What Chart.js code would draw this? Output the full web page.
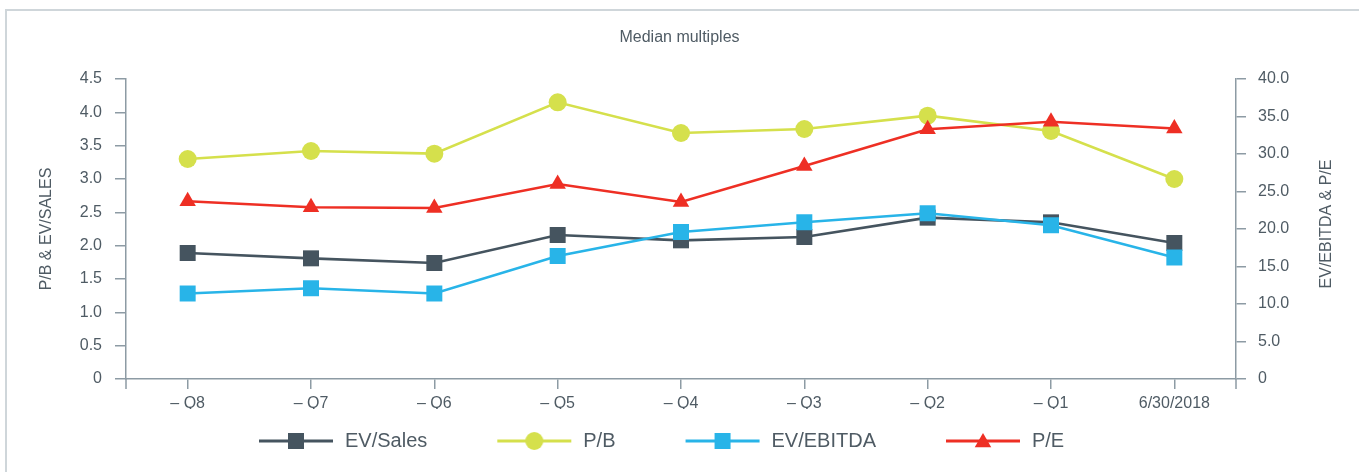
<!DOCTYPE html>
<html>
<head>
<meta charset="utf-8">
<script src="https://cdn.jsdelivr.net/npm/chart.js@4/dist/chart.umd.min.js"></script>
<style>
  html, body { margin: 0; padding: 0; background: #ffffff; overflow: hidden; }
  #frame { position: absolute; left: 5px; top: 9px; width: 1400px; height: 500px;
           border-left: 2px solid #cfd6da; border-top: 2px solid #cfd6da; }
  #c { position: absolute; left: 0; top: 0; }
</style>
</head>
<body>
<div id="frame"></div>
<canvas id="c" width="1359" height="472"></canvas>
<script>
// ---- data ----
const categories = ['\u2013 Q8', '\u2013 Q7', '\u2013 Q6', '\u2013 Q5', '\u2013 Q4', '\u2013 Q3', '\u2013 Q2', '\u2013 Q1', '6/30/2018'];
const evSales  = [1.89, 1.81, 1.74, 2.16, 2.08, 2.13, 2.42, 2.35, 2.04];
const pb       = [3.30, 3.42, 3.38, 4.15, 3.69, 3.75, 3.95, 3.72, 3.00];
const evEbitda = [11.4, 12.1, 11.4, 16.4, 19.6, 20.9, 22.1, 20.5, 16.2];
const pe       = [23.7, 22.9, 22.8, 26.0, 23.6, 28.4, 33.3, 34.3, 33.4];
const leftTickLabels  = ['0', '0.5', '1.0', '1.5', '2.0', '2.5', '3.0', '3.5', '4.0', '4.5'];
const rightTickLabels = ['0', '5.0', '10.0', '15.0', '20.0', '25.0', '30.0', '35.0', '40.0'];
const seriesNames = ['EV/Sales', 'P/B', 'EV/EBITDA', 'P/E'];
const titleText = 'Median multiples';
const leftAxisTitle = 'P/B & EV/SALES';
const rightAxisTitle = 'EV/EBITDA & P/E';

// ---- style ----
const FONT = "'Liberation Sans', Arial, Helvetica, sans-serif";
const TEXT = '#4f5b64';
const AXIS = '#8d9ba4';
const C_SALES = '#45545f', C_PB = '#d5e04c', C_EBITDA = '#28b4e8', C_PE = '#ee2f24';

// legend icons: line with marker (leading blank space used as item spacing)
const LEG_L = 46, LEG_LINE = 74;
function legendIcon(color, shape) {
  const cv = document.createElement('canvas');
  cv.width = LEG_L + LEG_LINE + 4; cv.height = 24;
  const g = cv.getContext('2d');
  const cy = 12, x0 = LEG_L + 2, cx = x0 + LEG_LINE / 2;
  g.strokeStyle = color; g.lineWidth = 3;
  g.beginPath(); g.moveTo(x0, cy); g.lineTo(x0 + LEG_LINE, cy); g.stroke();
  g.fillStyle = color;
  g.beginPath();
  if (shape === 'rect') { g.rect(cx - 8, cy - 8, 16, 16); }
  else if (shape === 'circle') { g.arc(cx, cy, 9, 0, Math.PI * 2); }
  else { const r = 9.5; g.moveTo(cx, cy - r * 0.85); g.lineTo(cx + r * 0.87, cy + r * 0.65); g.lineTo(cx - r * 0.87, cy + r * 0.65); g.closePath(); }
  g.fill();
  return cv;
}

const styles = [
  {color: C_SALES, shape: 'rect', radius: 11.3, axis: 'y', order: 4},
  {color: C_PB, shape: 'circle', radius: 9, axis: 'y', order: 3},
  {color: C_EBITDA, shape: 'rect', radius: 11.3, axis: 'y1', order: 2},
  {color: C_PE, shape: 'triangle', radius: 9.5, axis: 'y1', order: 1},
];
const values = [evSales, pb, evEbitda, pe];

const datasets = values.map((vals, i) => ({
  label: seriesNames[i],
  data: vals,
  yAxisID: styles[i].axis,
  order: styles[i].order,
  borderColor: styles[i].color,
  backgroundColor: styles[i].color,
  borderWidth: 2.6,
  pointStyle: styles[i].shape,
  pointRadius: styles[i].radius,
  pointHoverRadius: styles[i].radius,
  pointBackgroundColor: styles[i].color,
  pointBorderColor: styles[i].color,
  pointBorderWidth: 0,
  tension: 0,
  fill: false,
  clip: false
}));

const extras = {
  id: 'extras',
  afterLayout(chart) {
    // move the legend row so it starts where the reference legend starts
    const lg = chart.legend;
    const w = lg.right - lg.left;
    lg.left = 189; lg.right = 189 + w;
  },
  afterDraw(chart) {
    const ctx = chart.ctx, a = chart.chartArea;
    ctx.save();
    ctx.strokeStyle = AXIS; ctx.lineWidth = 1.5;
    ctx.beginPath();
    ctx.moveTo(a.left, a.bottom); ctx.lineTo(a.left, a.bottom + 10);
    ctx.moveTo(a.right, a.bottom); ctx.lineTo(a.right, a.bottom + 10);
    ctx.stroke();
    ctx.fillStyle = TEXT;
    ctx.font = '16px ' + FONT;
    ctx.textAlign = 'center'; ctx.textBaseline = 'middle';
    ctx.translate(1327, (a.top + a.bottom) / 2 - 5);
    ctx.rotate(-Math.PI / 2);
    ctx.fillText(rightAxisTitle, 0, 0);
    ctx.restore();
  }
};

new Chart(document.getElementById('c'), {
  type: 'line',
  data: { labels: categories, datasets },
  plugins: [extras],
  options: {
    responsive: false,
    animation: false,
    events: [],
    layout: { padding: { top: 0, left: 0, right: 0, bottom: 11 } },
    plugins: {
      tooltip: { enabled: false },
      title: {
        display: true, text: titleText, color: TEXT,
        font: { family: FONT, size: 16, weight: 'normal' },
        padding: { top: 28.4, bottom: 31.4 }
      },
      legend: {
        display: true, position: 'bottom', align: 'start',
        labels: {
          color: TEXT,
          font: { family: FONT, size: 20 },
          padding: 22,
          usePointStyle: true,
          pointStyleWidth: LEG_L + LEG_LINE + 4,
          generateLabels: (chart) => chart.data.datasets.map((ds, i) => ({
            text: ds.label,
            fillStyle: ds.borderColor,
            strokeStyle: ds.borderColor,
            lineWidth: 0,
            pointStyle: legendIcon(styles[i].color, styles[i].shape),
            fontColor: TEXT,
            hidden: false,
            datasetIndex: i
          }))
        }
      }
    },
    scales: {
      x: {
        type: 'category',
        offset: true,
        afterFit: (s) => { s.height = 30; },
        grid: { display: true, drawOnChartArea: false, drawTicks: true, tickLength: 10, offset: false, color: AXIS, lineWidth: 1.5 },
        border: { display: true, color: AXIS, width: 1.5 },
        ticks: { color: TEXT, font: { family: FONT, size: 16 }, padding: 5, maxRotation: 0, autoSkip: false }
      },
      y: {
        position: 'left', min: 0, max: 4.5,
        afterFit: (s) => { s.width = 126; },
        grid: { display: true, drawOnChartArea: false, drawTicks: true, tickLength: 11, color: AXIS, lineWidth: 1.5 },
        border: { display: true, color: AXIS, width: 1.5 },
        ticks: { stepSize: 0.5, color: TEXT, font: { family: FONT, size: 16 }, padding: 13,
                 callback: (v, i) => leftTickLabels[i] },
        title: { display: true, text: leftAxisTitle, color: TEXT, font: { family: FONT, size: 16 }, padding: { top: 37.4, bottom: 0 } }
      },
      y1: {
        position: 'right', min: 0, max: 40,
        afterFit: (s) => { s.width = 123; },
        grid: { display: true, drawOnChartArea: false, drawTicks: true, tickLength: 10, color: AXIS, lineWidth: 1.5 },
        border: { display: true, color: AXIS, width: 1.5 },
        ticks: { stepSize: 5, color: TEXT, font: { family: FONT, size: 16 }, padding: 12,
                 callback: (v, i) => rightTickLabels[i] }
      }
    }
  }
});
</script>
</body>
</html>
